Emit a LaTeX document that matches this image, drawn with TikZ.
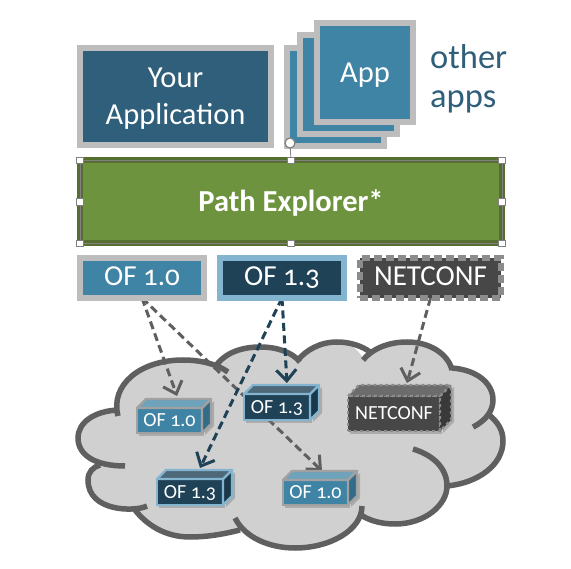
\documentclass[tikz,border=0pt]{standalone}
\usepackage{fontspec}
\setmainfont[Numbers=OldStyle]{Carlito}
\usetikzlibrary{arrows.meta,backgrounds,shadows}

\definecolor{appblue}{HTML}{2F5F7A}
\definecolor{ofblue}{HTML}{3F83A5}
\definecolor{ofnavy}{HTML}{1F4257}
\definecolor{oflight}{HTML}{84B5D0}
\definecolor{rimgrey}{HTML}{BDBDBD}
\definecolor{ncfdark}{HTML}{474747}
\definecolor{ncfrim}{HTML}{8C8C8C}
\definecolor{pathgreen}{HTML}{6D933F}
\definecolor{pathrim}{HTML}{566E30}
\definecolor{cloudfill}{HTML}{D0D0D0}
\definecolor{cloudline}{HTML}{5F5F5F}

\tikzset{
  block/.style={draw,line width=6pt,outer sep=0pt,inner sep=0pt,text=white,align=center},
  appbox/.style={block,draw=rimgrey,fill=#1},
  protobox/.style={block,minimum width=124pt,minimum height=40pt,text height=16pt,text depth=0pt,
    font=\fontsize{29}{30}\selectfont},
  handle/.style={draw=gray,fill=white,line width=.7pt,minimum size=6.5pt,inner sep=0pt},
  flow/.style={line width=3pt,dash pattern=on 8pt off 4.5pt,
    -{Straight Barb[length=11pt,width=20pt]}},
  front10/.style={draw=rimgrey!85!black,fill=ofblue,minimum width=65pt,minimum height=25pt},
  top10/.style={draw=rimgrey!85!black,fill=ofblue!75!white},
  side10/.style={draw=rimgrey!85!black,fill=ofblue!82!black},
  front13/.style={draw=oflight,fill=ofnavy,minimum width=66pt,minimum height=26pt},
  top13/.style={draw=oflight,fill=ofnavy!80!white},
  side13/.style={draw=oflight,fill=ofnavy!85!black},
  frontncf/.style={draw=ncfrim,dashed,fill=ncfdark,minimum width=92pt,minimum height=35pt},
  topncf/.style={draw=ncfrim,dashed,fill=ncfdark!80!white},
  sidencf/.style={draw=ncfrim,dashed,fill=ncfdark!80!black},
}

% name, x, y, depth, kind, text
\newcommand{\ofcube}[6]{
  \node[front#5,line width=2.4pt,outer sep=0pt,inner sep=0pt,text=white,text height=13pt,text depth=0pt,
    font=\fontsize{20}{22}\selectfont,
    drop shadow={opacity=.45,shadow xshift=2pt,shadow yshift=-3pt}] (#1) at (#2,#3) {#6};
  \draw[side#5,line width=2.4pt,line join=round,
    drop shadow={opacity=.45,shadow xshift=3pt,shadow yshift=-2pt}]
    (#1.north east) -- ([shift={(#4,-#4)}]#1.north east) -- ([shift={(#4,-#4)}]#1.south east) -- (#1.south east) -- cycle;
  \draw[top#5,line width=2.4pt,line join=round]
    (#1.north west) -- ([shift={(#4,-#4)}]#1.north west) -- ([shift={(#4,-#4)}]#1.north east) -- (#1.north east) -- cycle;
}

\begin{document}
\begin{tikzpicture}[x=1pt,y=-1pt]
  \useasboundingbox (0,0) rectangle (571,569);

  \node[appbox=appblue,minimum width=191pt,minimum height=97pt,
    font=\fontsize{30.5}{37}\selectfont] (yourapp) at (175.5,96.5) {\rule{0pt}{24pt}Your\\Application};
  \node[appbox=ofblue,minimum width=97pt,minimum height=98pt] (appback) at (335.5,97) {};
  \node[appbox=ofblue,minimum width=97pt,minimum height=99pt] (appmid) at (348.5,84.5) {};
  \node[appbox=ofblue,minimum width=96pt,minimum height=99pt,text height=24pt,
    font=\fontsize{30.5}{36}\selectfont] (appfront) at (365,72.5) {App};
  \node[anchor=west,align=left,text=appblue,inner sep=0pt,
    font=\fontsize{34.5}{39}\selectfont] (otherapps) at (430,79) {other\\apps};

  \node[block,draw=pathrim,fill=pathgreen,minimum width=422pt,minimum height=83pt,text height=23pt,
    font=\bfseries\fontsize{30.5}{32}\selectfont] (pathex) at (291,202) {Path Explorer*};
  \draw[gray,line width=.8pt] (pathex.north west) rectangle (pathex.south east);
  \foreach \a in {north west,north,north east,west,east,south west,south,south east}
    \node[handle] (h-\a) at (pathex.\a) {};
  \node[circle,draw=gray,fill=white,line width=1.2pt,minimum size=10pt,inner sep=0pt] (rot) at (290,143) {};
  \draw[gray,line width=.8pt] (rot) -- (h-north);

  \node[protobox,draw=rimgrey,fill=ofblue] (of10) at (142,278) {OF 1.0};
  \node[protobox,draw=oflight,fill=ofnavy] (of13) at (282,278) {OF 1.3};
  \node[protobox,draw=ncfrim,fill=ncfdark,dash pattern=on 8pt off 4pt,minimum width=141pt] (ncf) at (430.5,278) {NETCONF};

  \ofcube{cubea}{169.5}{420.5}{9}{10}{OF 1.0}
  \ofcube{cubeb}{277}{407}{9}{13}{OF 1.3}
  \ofcube{cubec}{394}{413.5}{11}{ncf}{NETCONF}
  \ofcube{cubed}{190}{492}{9}{13}{OF 1.3}
  \ofcube{cubee}{315.5}{492.5}{9}{10}{OF 1.0}

  \begin{scope}[on background layer]
    % cloud
    \fill[cloudfill] (118,412) .. controls (110,385) and (140,360) .. (183,360)
      .. controls (195,360) and (205,362) .. (215,367)
      .. controls (225,352) and (243,347) .. (260,347)
      .. controls (277,347) and (290,352) .. (298,361)
      .. controls (306,350) and (320,342) .. (337,342)
      .. controls (350,342) and (358,350) .. (363,358)
      .. controls (372,349) and (388,342) .. (407,342)
      .. controls (430,342) and (448,354) .. (452,369)
      .. controls (478,370) and (493,384) .. (493,400)
      .. controls (493,405) and (491,410) .. (488,414)
      .. controls (498,422) and (503,430) .. (503,441)
      .. controls (503,465) and (478,483) .. (447,486)
      .. controls (447,505) and (425,524) .. (395,524)
      .. controls (382,524) and (370,521) .. (361,515)
      .. controls (352,535) and (325,548) .. (295,548)
      .. controls (272,548) and (252,541) .. (240,530)
      .. controls (220,535) and (205,537) .. (190,537)
      .. controls (165,537) and (147,525) .. (135,510)
      .. controls (110,512) and (88,505) .. (88,480)
      .. controls (88,472) and (93,467) .. (100,465)
      .. controls (88,460) and (78,452) .. (78,438)
      .. controls (78,422) and (95,411) .. (118,412) -- cycle;
    \draw[cloudline,line width=5.5pt]
      (125,466) .. controls (95,466) and (78,455) .. (78,438) .. controls (78,422) and (95,411) .. (118,410)
      (118,416) .. controls (110,385) and (140,360) .. (183,360) .. controls (200,360) and (217,364) .. (228,372)
      (215,367) .. controls (225,352) and (243,347) .. (260,347) .. controls (277,347) and (292,352) .. (300,362)
      (297,361) .. controls (306,350) and (320,342) .. (337,342) .. controls (350,342) and (362,346) .. (370,352)
      (363,360) .. controls (372,349) and (388,342) .. (407,342) .. controls (430,342) and (448,354) .. (452,370)
      (452,368) .. controls (478,370) and (493,384) .. (493,400) .. controls (493,410) and (487,420) .. (473,427)
      (488,414) .. controls (498,422) and (503,430) .. (503,441) .. controls (503,465) and (478,483) .. (447,486)
      (413,449) .. controls (433,455) and (447,468) .. (447,486) .. controls (447,505) and (425,524) .. (395,524) .. controls (382,524) and (370,521) .. (361,515)
      (362,506) .. controls (362,530) and (330,548) .. (295,548) .. controls (270,548) and (245,538) .. (235,518)
      (240,530) .. controls (220,535) and (205,537) .. (190,537) .. controls (165,537) and (147,525) .. (135,510)
      (147,506) .. controls (135,512) and (88,512) .. (88,480) .. controls (88,472) and (93,467) .. (100,465);
    % arrows
    \draw[flow,cloudline] (of10.south) -- ([xshift=7.5pt,yshift=12pt]cubea.north);
    \draw[flow,cloudline] (of10.south) -- ([xshift=6.5pt,yshift=9pt]cubee.north);
    \draw[flow,ofnavy] (of13.south) -- ([xshift=10pt,yshift=11pt]cubeb.north);
    \draw[flow,ofnavy] (of13.south) -- ([xshift=10pt,yshift=11pt]cubed.north);
    \draw[flow,cloudline] (ncf.south) -- ([xshift=13pt,yshift=13pt]cubec.north);
  \end{scope}
\end{tikzpicture}
\end{document}
